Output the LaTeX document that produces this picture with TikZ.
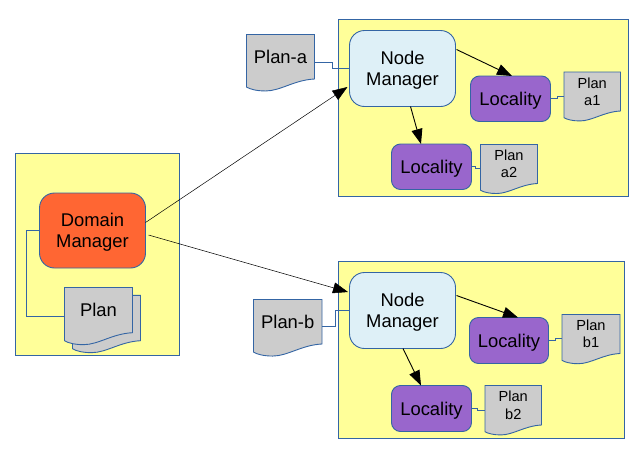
\documentclass[tikz,border=0pt]{standalone}
\usepackage{fontspec}
\setmainfont{Liberation Sans}
\usetikzlibrary{arrows.meta}
\definecolor{boxline}{HTML}{3465A4}
\definecolor{boxyellow}{HTML}{FFFF99}
\definecolor{dmorange}{HTML}{FF6633}
\definecolor{nmblue}{HTML}{DEF0F7}
\definecolor{locpurple}{HTML}{9966CC}
\definecolor{docgray}{HTML}{CCCCCC}
\tikzset{
  big/.style={font=\fontsize{18.4}{20.7}\selectfont},
  small/.style={font=\fontsize{14.6}{17.3}\selectfont},
  outerbox/.style={draw=boxline, fill=boxyellow, line width=0.9pt, inner sep=0pt, outer sep=0pt},
  manager/.style={draw=boxline, line width=0.9pt, rounded corners=15pt, align=center, big, inner sep=0pt, outer sep=0pt, text depth=0pt},
  locality/.style={draw=boxline, fill=locpurple, line width=0.9pt, rounded corners=9pt, big, inner sep=0pt, outer sep=0pt, minimum width=80pt, minimum height=45.5pt, text height=13pt, text depth=0pt},
  docline/.style={draw=boxline, fill=docgray, line width=0.9pt, line join=miter},
  docbox/.style={align=center, inner sep=0pt, outer sep=0pt},
  link/.style={draw=boxline, line width=0.9pt},
  flow/.style={-{Triangle[length=15pt,width=11pt]}, black, line width=0.9pt},
  longflow/.style={-{Triangle[length=15pt,width=11pt]}, black, line width=0.5pt}
}
% name, text options, left, top, right, bottom of the straight part, text
\newcommand{\plandoc}[7]{
  \pgfmathsetmacro{\docw}{#5-#3}
  \draw[docline] (#3,#4) -- (#5,#4) -- (#5,#6)
    .. controls ({#5-0.3*\docw},{#6+0.015*\docw}) and ({#5-0.5*\docw},{#6+0.176*\docw}) .. ({#5-0.72*\docw},{#6+0.176*\docw})
    .. controls ({#5-0.85*\docw},{#6+0.176*\docw}) and ({#5-0.95*\docw},{#6+0.15*\docw}) .. (#3,{#6+0.118*\docw})
    -- cycle;
  \node[docbox,#2,minimum width={(#5-#3)*1pt},minimum height={(#6-#4)*1pt}] (#1) at ({(#3+#5)/2},{(#4+#6)/2}) {#7};
}

\begin{document}
\begin{tikzpicture}[x=1pt,y=-1pt]
\useasboundingbox (0,0) rectangle (643,461);
% the three yellow boxes
\node[outerbox,minimum width=164pt,minimum height=202pt] (domainbox) at (97.5,254.5) {};
\node[outerbox,minimum width=289.5pt,minimum height=176.5pt] (boxa) at (483.25,107.75) {};
\node[outerbox,minimum width=286pt,minimum height=177pt] (boxb) at (481.5,350) {};

% domain side
\node[manager,fill=dmorange,minimum width=106pt,minimum height=75pt] (dm) at (92.5,230.5) {Domain\\Manager};
\plandoc{planback}{big}{72.5}{295.3}{140.5}{340.7}{}
\plandoc{plan}{big}{64.5}{287.5}{132.5}{332.7}{Plan}
\draw[link] (dm.west) -- ++(-13,0) |- ([yshift=-6pt]plan.west);

% node a
\node[manager,fill=nmblue,minimum width=106pt,minimum height=76pt] (nma) at (402.5,68.5) {Node\\Manager};
\node[locality] (la1) at (510.5,98.75) {Locality};
\node[locality] (la2) at (431.5,166.75) {Locality};
\plandoc{plana}{big}{246.5}{34.5}{314.5}{79}{Plan-a}
\plandoc{plana1}{small}{564}{72}{620.5}{111}{Plan\\a1}
\plandoc{plana2}{small}{480.5}{144.5}{537.5}{183.5}{Plan\\a2}
\draw[link] ([yshift=-5.5pt]plana.east) -- ++(17.5,0) |- (nma.west);
\draw[link] (la1.east) -- ++(7,0) |- ([yshift=-5pt]plana1.west);
\draw[link] (la2.east) -- ++(3.5,0) |- ([yshift=-4.5pt]plana2.west);

% node b
\node[manager,fill=nmblue,minimum width=106pt,minimum height=76pt] (nmb) at (402.5,310.5) {Node\\Manager};
\node[locality,minimum width=79pt,minimum height=46pt] (lb1) at (509,340.5) {Locality};
\node[locality,minimum height=46pt] (lb2) at (431.5,408.5) {Locality};
\plandoc{planb}{big}{253.5}{299.5}{322}{344}{Plan-b}
\plandoc{planb1}{small}{562}{314.5}{620}{353.5}{Plan\\b1}
\plandoc{planb2}{small}{485}{385.5}{541.5}{425}{Plan\\b2}
\draw[link] ([yshift=-5pt]planb.east) -- ++(13,0) |- (nmb.west);
\draw[link] (lb1.east) -- ++(7,0) |- ([yshift=-4.3pt]planb1.west);
\draw[link] (lb2.east) -- ++(6,0) |- ([yshift=-5pt]planb2.west);

% arrows
\draw[longflow] ([yshift=8pt]dm.east) -- ([xshift=-2pt,yshift=-18.5pt]nma.west);
\draw[longflow] ([xshift=3pt,yshift=-4.5pt]dm.east) -- ([xshift=-1.5pt,yshift=18.5pt]nmb.west);
\draw[flow] ([xshift=1pt,yshift=19pt]nma.east) -- ([xshift=1.5pt]la1.north);
\draw[flow] ([xshift=8pt]nma.south) -- ([xshift=-10.5pt]la2.north);
\draw[flow] ([xshift=1pt,yshift=15pt]nmb.east) -- ([xshift=9pt]lb1.north);
\draw[flow] ([xshift=0.5pt]nmb.south) -- ([xshift=-10.5pt]lb2.north);
\end{tikzpicture}
\end{document}
